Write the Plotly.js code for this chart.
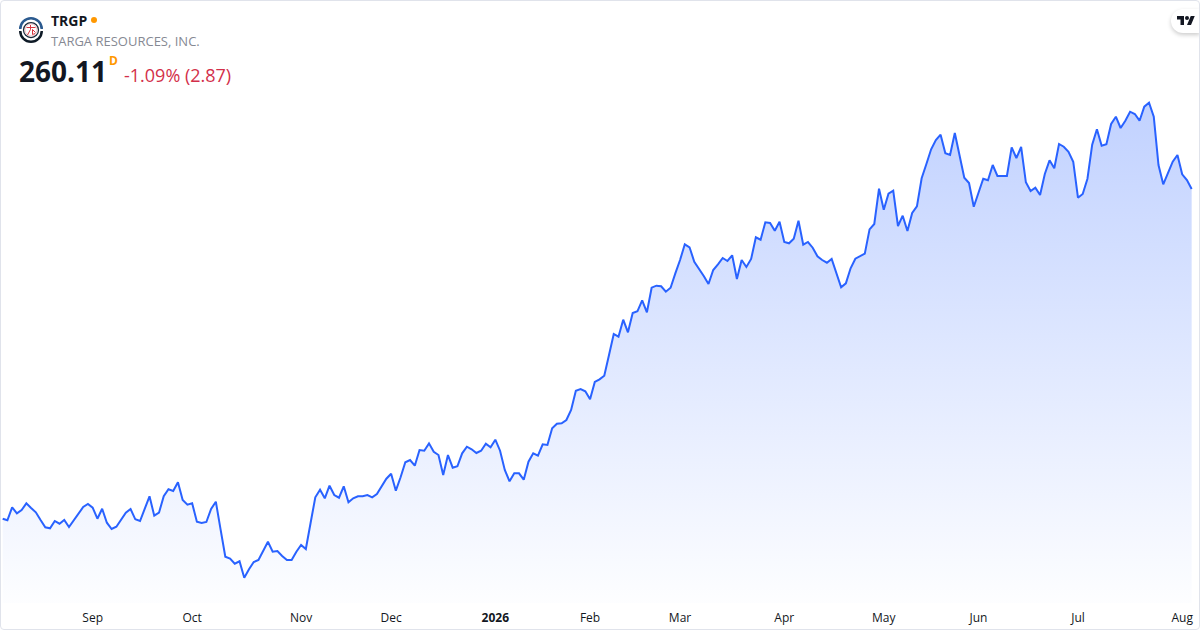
<!DOCTYPE html>
<html>
<head>
<meta charset="utf-8">
<script src="https://cdn.plot.ly/plotly-3.0.1.min.js"></script>
<style>
html,body{margin:0;padding:0;background:#fff;}
#wrap{position:relative;width:1200px;height:630px;overflow:hidden;}
#chart{position:absolute;left:0;top:0;width:1200px;height:630px;}
#frame{position:absolute;left:0;top:0;width:1198px;height:628px;border:1px solid #e0e3eb;border-radius:4px;pointer-events:none;}
#tv{position:absolute;left:1171px;top:9px;width:29px;height:24px;background:#fff;border-radius:12px 0 0 12px;box-shadow:0 2px 4px rgba(0,0,0,.2);}
#tv svg{position:absolute;left:6px;top:5px;width:18px;height:14px;}
</style>
</head>
<body>
<div id="wrap">
<div id="chart"></div>
<div id="tv"><svg viewBox="0 0 36 28"><path fill="#131722" d="M14 22H7V11H0V4h14v18zM28 22h-8l7.5-18h8L28 22z"/><circle fill="#131722" cx="20" cy="8" r="4"/></svg></div>
<div id="frame"></div>
</div>
<script>
var closes = [
161.20,160.72,164.62,162.82,163.81,165.82,164.41,163.12,160.81,158.62,
158.32,160.51,159.70,160.81,158.71,160.81,162.82,164.71,165.61,164.50,
161.20,164.20,160.00,158.11,158.80,161.11,163.00,164.11,161.02,160.51,
164.32,167.92,162.10,163.00,167.92,170.02,169.51,172.12,166.81,165.40,
165.82,160.30,159.91,160.21,164.11,166.30,158.02,149.80,149.23,147.70,
148.42,143.50,146.02,148.21,148.81,151.81,154.30,151.30,151.51,150.01,
148.81,148.81,151.30,153.31,152.11,159.91,167.62,169.90,167.32,171.10,
168.31,167.50,170.92,166.12,167.32,167.92,167.92,168.31,167.62,168.61,
170.80,173.20,174.70,169.60,173.62,178.12,178.81,177.10,181.81,181.60,
183.80,181.30,180.31,174.31,180.31,176.50,176.92,180.82,182.80,182.02,
180.91,181.60,183.70,182.62,184.90,181.60,175.81,172.42,174.82,174.82,
172.90,178.30,180.82,180.10,183.52,183.31,188.32,189.70,189.82,190.81,
193.81,199.60,200.11,199.42,197.02,202.21,203.02,204.10,210.31,216.61,
215.80,220.90,217.12,222.91,223.42,226.72,223.12,230.50,231.10,230.92,
229.30,230.50,234.80,238.81,243.52,242.62,238.30,236.32,234.01,231.61,
235.81,237.52,239.41,238.51,240.22,233.11,238.81,236.71,239.11,245.62,
244.90,250.12,249.91,247.60,250.30,244.21,243.82,245.20,250.60,243.40,
244.21,242.50,239.92,238.81,238.00,239.11,234.80,230.62,231.82,236.32,
239.20,240.01,240.70,248.00,249.61,260.20,253.90,258.70,259.60,249.01,
252.10,247.51,252.91,254.92,263.32,267.61,272.02,274.81,276.40,270.82,
270.31,276.91,270.22,263.50,261.91,254.80,259.00,263.20,262.72,267.31,
264.01,264.01,264.01,272.62,269.41,272.71,262.12,259.51,260.50,258.31,
264.61,268.72,266.32,273.61,272.80,271.30,268.30,257.50,258.61,263.20,
273.40,278.02,273.10,273.52,279.61,281.80,278.41,280.60,283.30,282.61,
280.60,284.80,286.00,281.80,267.31,261.52,264.82,268.30,270.31,264.52,
262.81,260.11];
var sessions = closes.map(function(_, i){ return i; });
var tickSessions = [19,40,63,82,104,124,143,165,186,206,227,249];
var tickLabels = ['Sep','Oct','Nov','Dec','<b>2026</b>','Feb','Mar','Apr','May','Jun','Jul','Aug'];

var symbol = 'TRGP';
var company = 'TARGA RESOURCES, INC.';
var lastPrice = '260.11';
var change = '-1.09% (2.87)';

var FONT = '"Open Sans", "Noto Sans", sans-serif';
var logo = 'data:image/svg+xml;utf8,' + encodeURIComponent(
 '<svg xmlns="http://www.w3.org/2000/svg" viewBox="0 0 52 52">'+
 '<path d="M2 24a24 24 0 0 1 48 0h-5a19 19 0 0 0-38 0z" fill="#2b5a8f"/>'+
 '<path d="M2 28a24 24 0 0 0 48 0h-5a19 19 0 0 1-38 0z" fill="#0e1a26"/>'+
 '<circle cx="26" cy="26" r="15" fill="#fff" stroke="#1b2a3a" stroke-width="2.5"/>'+
 '<circle cx="26" cy="26" r="12" fill="none" stroke="#e58a90" stroke-width="1"/>'+
 '<path d="M17 21h18M25 16v9l-6 11M29 25v10l5-2M29 25l6 6" stroke="#d8343f" stroke-width="2" fill="none"/>'+
 '</svg>');

var trace = {
  x: sessions, y: closes, type: 'scatter', mode: 'lines',
  line: {color: '#2962FF', width: 2, shape: 'linear'},
  fill: 'tozeroy',
  fillgradient: {
    type: 'vertical',
    start: 286.2, stop: 136,
    colorscale: [[0, 'rgba(41,98,255,0.29)'], [1, 'rgba(41,98,255,0.01)']]
  },
  hoverinfo: 'skip'
};
function note(text, px, py, size, color) {
  return {text: text, x: px/1200, y: 1 - py/603, showarrow: false, xanchor: 'left', yanchor: 'middle',
    xref: 'paper', yref: 'paper', font: {family: FONT, size: size, color: color}};
}
var layout = {
  width: 1200, height: 630,
  margin: {l: 0, r: 0, t: 0, b: 27, pad: 0},
  paper_bgcolor: '#ffffff', plot_bgcolor: '#ffffff',
  showlegend: false,
  xaxis: {range: [-0.5637, 252.76], tickmode: 'array', tickvals: tickSessions, ticktext: tickLabels,
    showgrid: false, zeroline: false, showline: false, ticks: '', ticklabelstandoff: 6,
    tickfont: {family: FONT, size: 12, color: '#131722'}, fixedrange: true},
  yaxis: {range: [135.91, 316.81], visible: false, showgrid: false, zeroline: false, fixedrange: true},
  images: [{source: logo, xref: 'paper', yref: 'paper', xanchor: 'left', yanchor: 'top',
    x: 18/1200, y: 1 - 17/603, sizex: 26/1200, sizey: 26/603, sizing: 'contain', layer: 'above'}],
  shapes: [{type: 'circle', xref: 'paper', yref: 'paper', x0: 91/1200, x1: 97/1200, y0: 1 - 23/603, y1: 1 - 17/603,
    fillcolor: '#ff9800', line: {width: 0}, layer: 'above'}],
  annotations: [
    note('<b>' + symbol + '</b>', 49, 21, 14, '#131722'),
    note(company, 49, 41, 13, '#868993'),
    note('<b>' + lastPrice + '</b>', 17, 71, 28, '#131722'),
    note('<b>D</b>', 106.5, 61, 12, '#ff9800'),
    note(change, 122, 75, 18, '#d32f4a')
  ]
};
Plotly.newPlot('chart', [trace], layout, {staticPlot: true, displayModeBar: false});
</script>
</body>
</html>
